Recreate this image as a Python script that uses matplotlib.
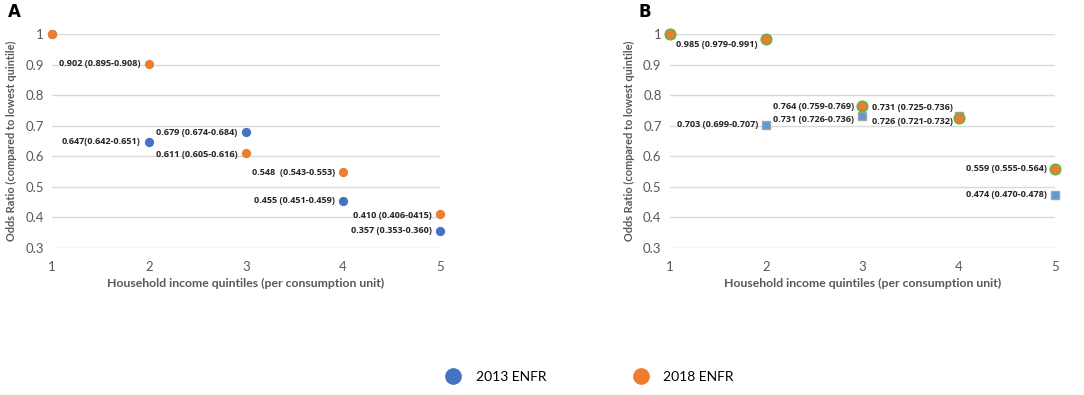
import numpy as np
import matplotlib
matplotlib.use("Agg")
import matplotlib.pyplot as plt
from matplotlib.lines import Line2D

plt.rcParams['font.family'] = ['Lato', 'DejaVu Sans']

quintiles = [1, 2, 3, 4, 5]

# panel A
a_2013 = [1.0, 0.647, 0.679, 0.455, 0.357]
a_2018 = [1.0, 0.902, 0.611, 0.548, 0.410]
a_2013_txt = [None, "0.647(0.642-0.651)", "0.679 (0.674-0.684)",
              "0.455 (0.451-0.459)", "0.357 (0.353-0.360)"]
a_2018_txt = [None, "0.902 (0.895-0.908)", "0.611 (0.605-0.616)",
              "0.548  (0.543-0.553)", "0.410 (0.406-0415)"]

# panel B
b_2013 = [1.0, 0.703, 0.731, 0.731, 0.474]
b_2018 = [1.0, 0.985, 0.764, 0.726, 0.559]
b_2013_txt = [None, "0.703 (0.699-0.707)", "0.731 (0.726-0.736)",
              "0.731 (0.725-0.736)", "0.474 (0.470-0.478)"]
b_2018_txt = [None, "0.985 (0.979-0.991)", "0.764 (0.759-0.769)",
              "0.726 (0.721-0.732)", "0.559 (0.555-0.564)"]

# label offsets (points)
a_2013_off = [None, (-6, 0), (-6, 0), (-6, 0), (-6, 0)]
a_2018_off = [None, (-6, 0), (-6, -1), (-6, 0), (-6, -1)]
b_2013_off = [None, (-6, 0), (-6, -2), (-4, 6), (-6, 0)]
b_2018_off = [None, (-6, -4), (-6, 0), (-4, -3), (-6, 0)]

BLUE = '#4472C4'
ORANGE = '#ED7D31'
GREY = '#595959'

fig = plt.figure(figsize=(10.84, 3.95), dpi=100)
axA = fig.add_axes([0.048, 0.372, 0.358, 0.542])
axB = fig.add_axes([0.618, 0.372, 0.355, 0.542])


def style(ax):
    ax.set_xlim(1, 5)
    ax.set_ylim(0.3, 1.0)
    ax.set_xticks(quintiles)
    ax.set_yticks(np.arange(0.3, 1.01, 0.1))
    ax.set_yticklabels([f'{v:g}' for v in np.round(np.arange(0.3, 1.01, 0.1), 1)])
    ax.grid(axis='y', color='#D9D9D9', lw=1)
    ax.set_axisbelow(True)
    for s in ax.spines.values():
        s.set_visible(False)
    ax.tick_params(length=0, labelsize=9.5, labelcolor=GREY)
    ax.tick_params(axis='x', pad=9)
    ax.tick_params(axis='y', pad=6)
    ax.set_xlabel('Household income quintiles (per consumption unit)',
                  fontsize=8.8, color=GREY, fontweight='bold')
    ax.set_ylabel('Odds Ratio (compared to lowest quintile)',
                  fontsize=7.9, color=GREY, fontweight='bold')
    ax.xaxis.set_label_coords(0.5, -0.14)
    ax.yaxis.set_label_coords(-0.09, 0.5)


def label(ax, vals, txts, offs):
    for x, y, t, o in zip(quintiles, vals, txts, offs):
        if t is None:
            continue
        ax.annotate(t, (x, y), xytext=o, textcoords='offset points',
                    ha='right', va='center', fontsize=6.6,
                    fontweight='bold', color='#262626',
                    family=['Open Sans', 'DejaVu Sans'])


style(axA)
axA.scatter(quintiles, a_2013, s=32, color=BLUE, zorder=3, clip_on=False)
axA.scatter(quintiles, a_2018, s=32, color=ORANGE, zorder=4, clip_on=False)
label(axA, a_2013, a_2013_txt, a_2013_off)
label(axA, a_2018, a_2018_txt, a_2018_off)

style(axB)
axB.scatter(quintiles, b_2013, s=40, marker='s', color='#5B9BD5',
            edgecolor='#A5A5A5', lw=1, zorder=3, clip_on=False)
axB.scatter(quintiles, b_2018, s=55, color=ORANGE, edgecolor='#70AD47',
            lw=1.3, zorder=4, clip_on=False)
label(axB, b_2013, b_2013_txt, b_2013_off)
label(axB, b_2018, b_2018_txt, b_2018_off)

fig.text(0.007, 0.97, 'A', fontsize=12, fontweight='bold', va='center',
         family=['DejaVu Sans'])
fig.text(0.589, 0.97, 'B', fontsize=12, fontweight='bold', va='center',
         family=['DejaVu Sans'])

handles = [Line2D([], [], ls='none', marker='o', ms=11, color=BLUE),
           Line2D([], [], ls='none', marker='o', ms=11, color=ORANGE)]
fig.legend(handles, ['2013 ENFR', '2018 ENFR'], loc='center',
           bbox_to_anchor=(0.541, 0.045), ncol=2, frameon=False,
           fontsize=10, columnspacing=5.8, handletextpad=0.6)

fig.savefig('out.png', dpi=100)
